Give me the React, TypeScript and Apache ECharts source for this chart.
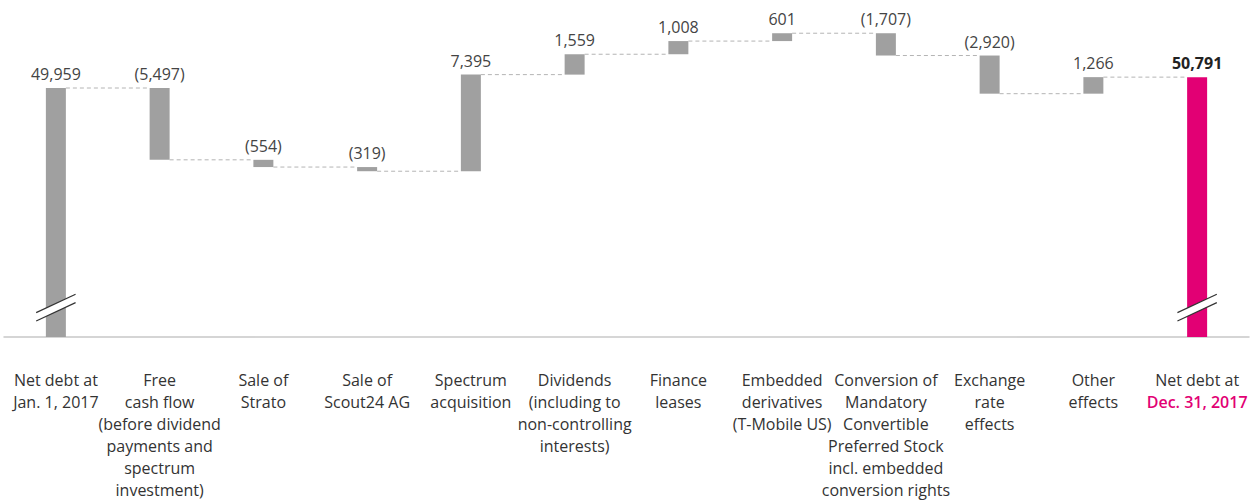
import React, { useEffect, useRef } from "react";
import * as echarts from "echarts";

const categories: string[] = [
  "Net debt at\nJan. 1, 2017",
  "Free\ncash flow\n(before dividend\npayments and\nspectrum\ninvestment)",
  "Sale of\nStrato",
  "Sale of\nScout24 AG",
  "Spectrum\nacquisition",
  "Dividends\n(including to\nnon-controlling\ninterests)",
  "Finance\nleases",
  "Embedded\nderivatives\n(T-Mobile US)",
  "Conversion of\nMandatory\nConvertible\nPreferred Stock\nincl. embedded\nconversion rights",
  "Exchange\nrate\neffects",
  "Other\neffects",
  "Net debt at\nDec. 31, 2017",
];

const startValue = 49959;
const changes: number[] = [-5497, -554, -319, 7395, 1559, 1008, 601, -1707, -2920, 1266];
const endValue = 50791;

const axisMin = 30900;
const axisMax = 55930;
const breakValue = 33150;

const GRAY = "#a0a0a0";
const MAGENTA = "#e20074";
const FONT = "'Open Sans', 'Liberation Sans', sans-serif";

function fmt(v: number): string {
  const s = Math.abs(v).toLocaleString("en-US");
  return v < 0 ? `(${s})` : s;
}

export default function App() {
  const ref = useRef<HTMLDivElement>(null);

  useEffect(() => {
    if (!ref.current) return;
    const chart = echarts.init(ref.current, undefined, { renderer: "svg" });

    const n = categories.length;
    const base: number[] = [];
    const height: number[] = [];
    const labels: string[] = [];
    const levels: number[] = [];
    base.push(0);
    height.push(startValue);
    labels.push(fmt(startValue));
    let cum = startValue;
    levels.push(cum);
    changes.forEach((c) => {
      const next = cum + c;
      base.push(Math.min(cum, next));
      height.push(Math.abs(c));
      labels.push(fmt(c));
      cum = next;
      levels.push(cum);
    });
    base.push(0);
    height.push(endValue);
    labels.push(fmt(endValue));

    const connectorData = levels.map((v, i) => [i, v]);
    const breakData = [
      [0, breakValue],
      [n - 1, breakValue],
    ];

    const visibleData = height.map((h, i) => {
      const item: any = {
        value: h,
        itemStyle: { color: i === n - 1 ? MAGENTA : GRAY },
      };
      if (i === n - 1) {
        item.label = { fontWeight: "bold", color: "#222" };
      }
      return item;
    });

    chart.setOption({
      animation: false,
      grid: { left: 4, right: 2, top: 10, bottom: 163, containLabel: false },
      xAxis: {
        type: "category",
        data: categories,
        axisLine: { show: true, lineStyle: { color: "#c8c8c8", width: 1.5 } },
        axisTick: { show: false },
        axisLabel: {
          interval: 0,
          margin: 32,
          fontSize: 16,
          lineHeight: 22,
          fontFamily: FONT,
          color: "#333",
          formatter: (val: string, idx: number) => {
            if (idx === n - 1) {
              const parts = val.split("\n");
              return `${parts[0]}\n{m|${parts[1]}}`;
            }
            return val;
          },
          rich: {
            m: {
              color: MAGENTA,
              fontSize: 16,
              lineHeight: 22,
              fontWeight: 600,
              fontFamily: FONT,
            },
          },
        },
      },
      yAxis: {
        type: "value",
        min: axisMin,
        max: axisMax,
        show: false,
        splitLine: { show: false },
      },
      series: [
        {
          type: "bar",
          stack: "w",
          barWidth: 20,
          data: base,
          itemStyle: { color: "transparent" },
          silent: true,
        },
        {
          type: "bar",
          stack: "w",
          barWidth: 20,
          data: visibleData,
          label: {
            show: true,
            position: "top",
            distance: 6,
            fontSize: 16,
            fontFamily: FONT,
            color: "#444",
            formatter: (p: any) => labels[p.dataIndex],
          },
        },
        {
          type: "custom",
          data: connectorData,
          z: 1,
          silent: true,
          renderItem: (params: any, api: any) => {
            const i = api.value(0);
            const v = api.value(1);
            if (i >= n - 1) return null;
            const p0 = api.coord([i, v]);
            const p1 = api.coord([i + 1, v]);
            return {
              type: "line",
              shape: { x1: p0[0] + 10, y1: p0[1], x2: p1[0] - 10, y2: p1[1] },
              style: { stroke: "#b4b4b4", lineWidth: 1, lineDash: [4, 3] },
            };
          },
        },
        {
          type: "custom",
          data: breakData,
          z: 10,
          silent: true,
          renderItem: (params: any, api: any) => {
            const p = api.coord([api.value(0), api.value(1)]);
            const cx = p[0];
            const cy = p[1];
            const hw = 19.7;
            const u1 = [cx - hw, cy + 5];
            const u2 = [cx + hw, cy - 13.3];
            const l1 = [cx - hw, cy + 13.4];
            const l2 = [cx + hw, cy - 5];
            return {
              type: "group",
              children: [
                {
                  type: "polygon",
                  shape: { points: [u1, u2, l2, l1] },
                  style: { fill: "#ffffff" },
                },
                {
                  type: "line",
                  shape: { x1: u1[0], y1: u1[1], x2: u2[0], y2: u2[1] },
                  style: { stroke: "#333", lineWidth: 1.2 },
                },
                {
                  type: "line",
                  shape: { x1: l1[0], y1: l1[1], x2: l2[0], y2: l2[1] },
                  style: { stroke: "#333", lineWidth: 1.2 },
                },
              ],
            };
          },
        },
      ],
    });

    return () => {
      chart.dispose();
    };
  }, []);

  return (
    <div
      ref={ref}
      style={{ position: "absolute", left: 0, top: 0, width: 1251, height: 501, background: "#fff" }}
    />
  );
}
